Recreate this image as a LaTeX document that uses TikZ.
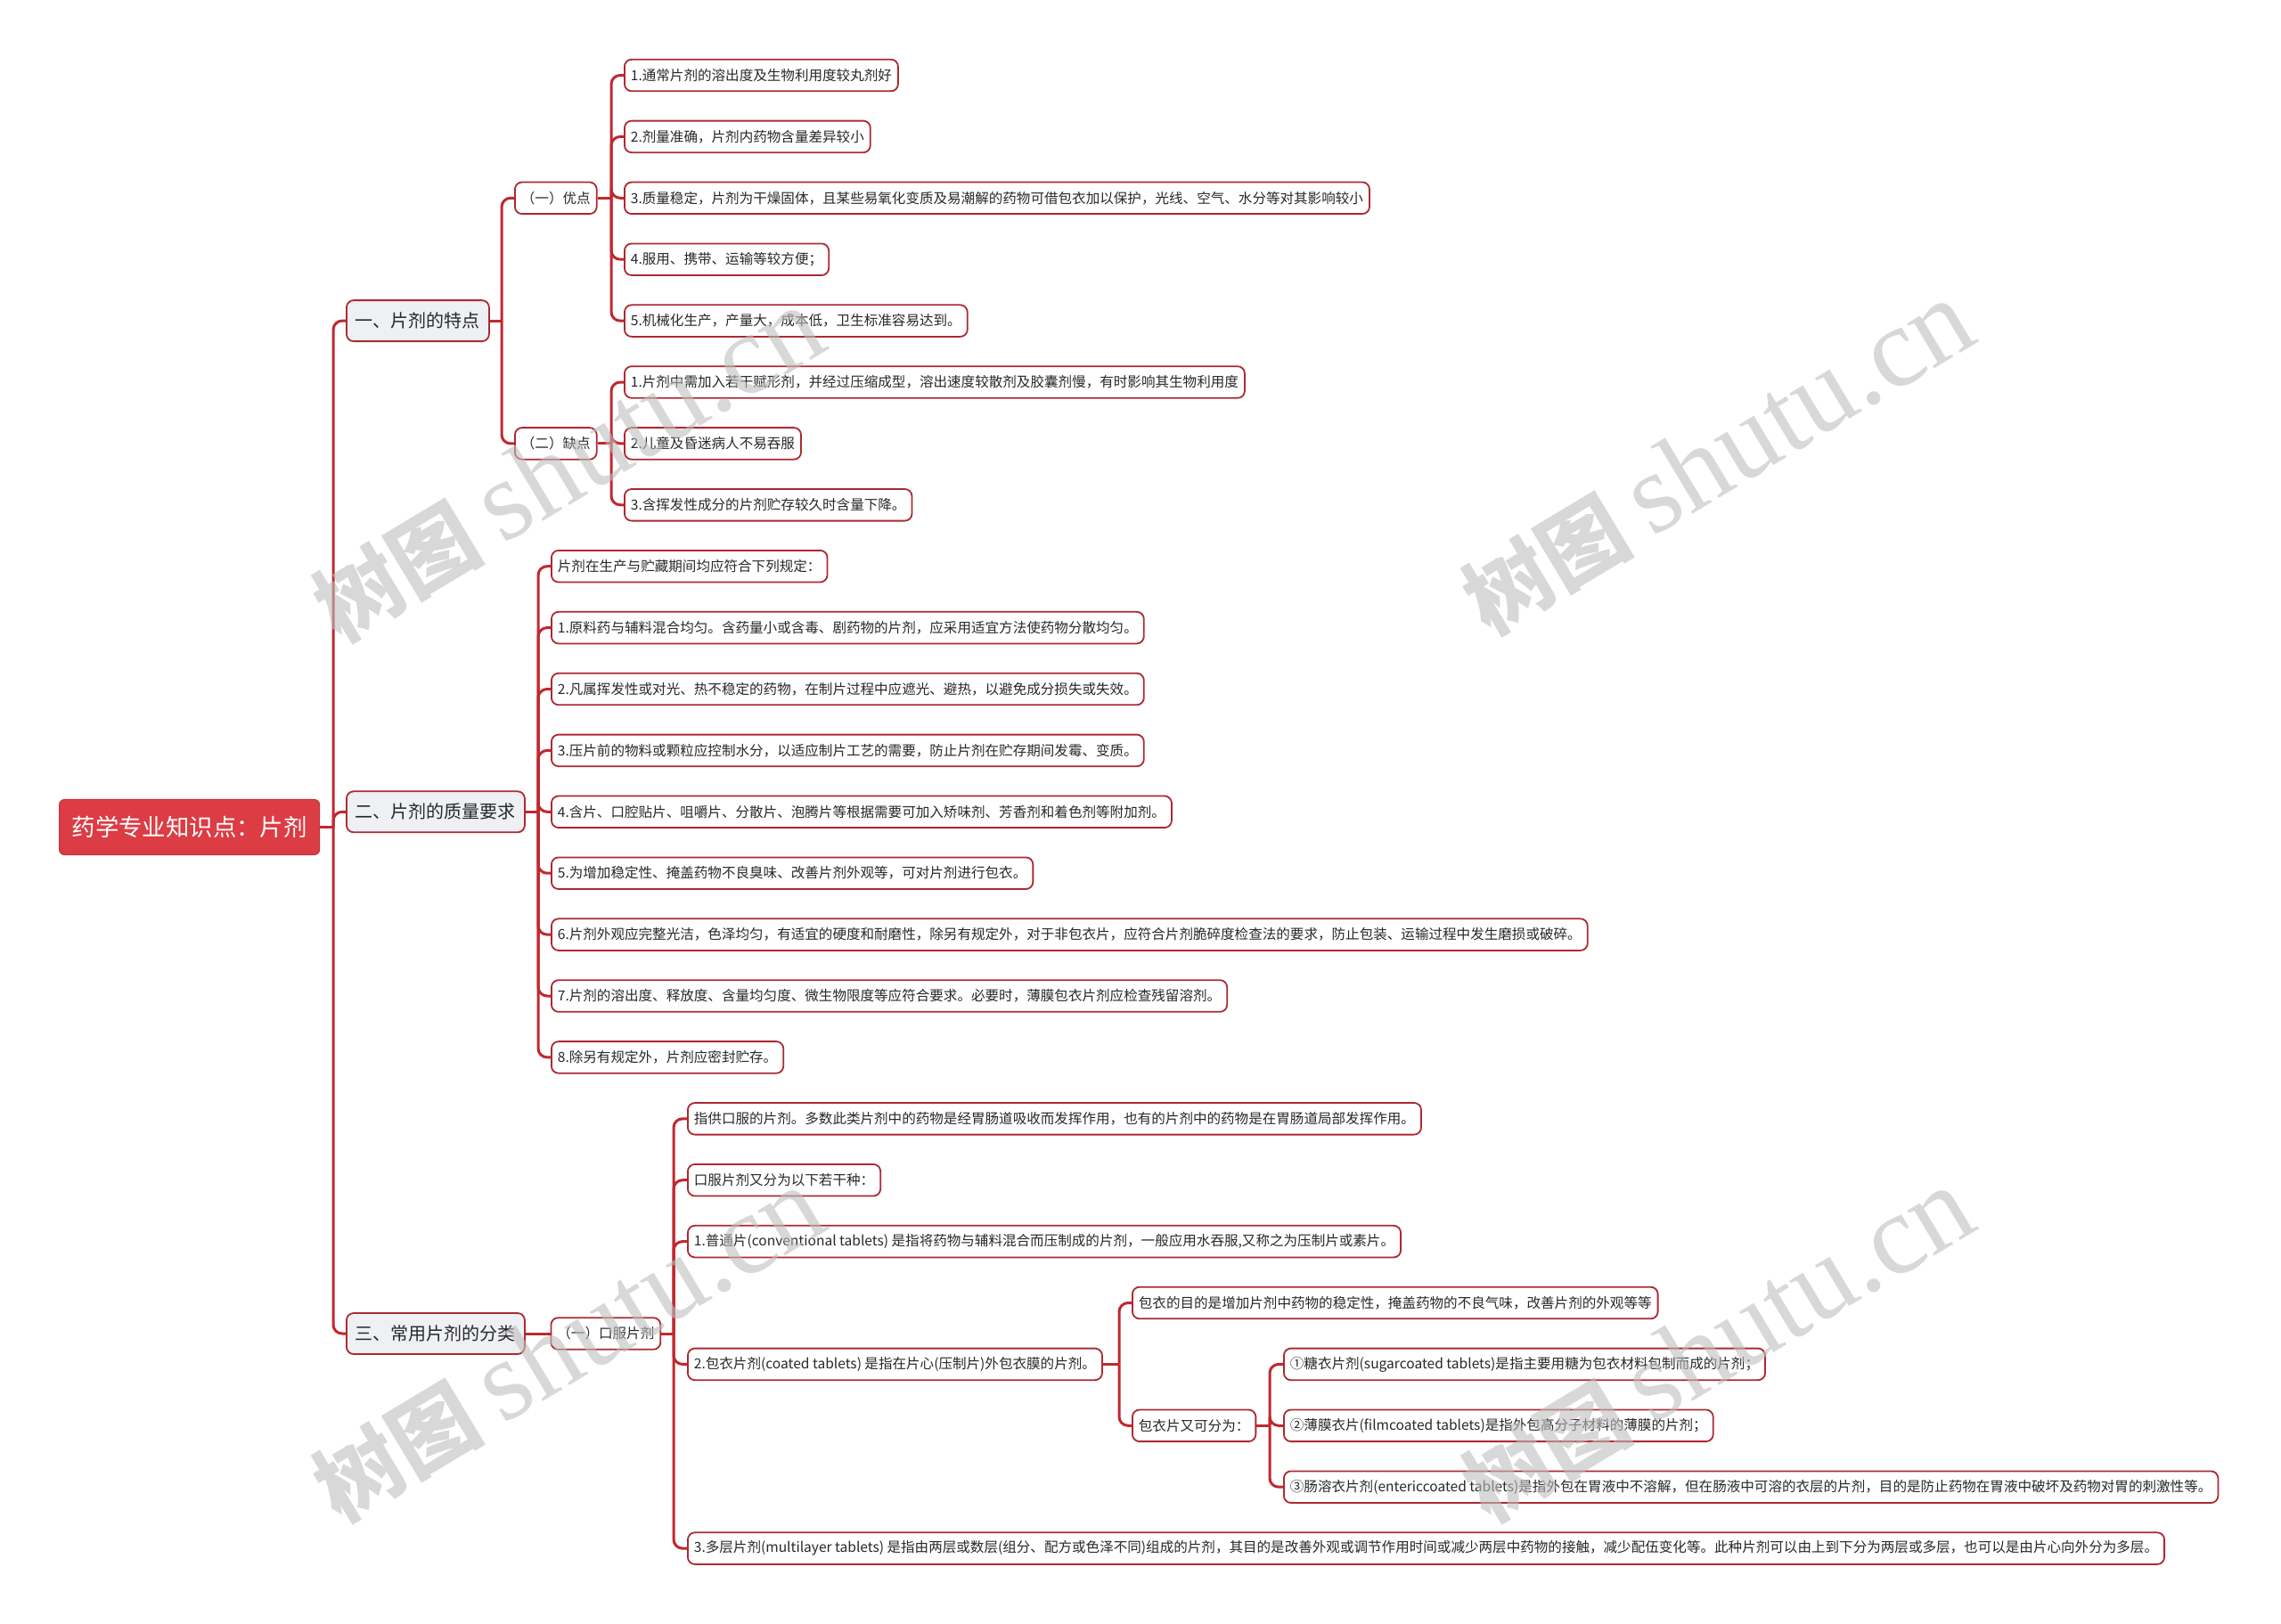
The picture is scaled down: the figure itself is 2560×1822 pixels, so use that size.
\documentclass[tikz,border=0pt]{standalone}
\usepackage{fontspec}
\setmainfont{Noto Sans CJK SC}
\newfontfamily\wmserif{Liberation Serif}
\usetikzlibrary{calc}
\definecolor{lineRed}{RGB}{192,40,48}
\definecolor{boxRed}{RGB}{172,42,50}
\definecolor{rootRed}{RGB}{220,60,68}
\definecolor{lvlGray}{RGB}{238,240,244}
\definecolor{txtDark}{RGB}{40,40,40}
\definecolor{wmGray}{RGB}{190,190,190}
\begin{document}
\begin{tikzpicture}[x=0.5pt,y=-0.5pt,
 leaf/.style={draw=boxRed, line width=0.9pt, fill=white, rounded corners=4pt,
   text=txtDark, font=\fontsize{7.78}{9}\selectfont, inner xsep=3.5pt, inner ysep=0pt,
   minimum height=17.8pt, anchor=west},
 lvl/.style={draw=boxRed, fill=lvlGray, line width=0.9pt, rounded corners=4pt,
   text=txtDark, font=\fontsize{10}{12}\selectfont, inner xsep=5pt, inner ysep=0pt,
   minimum height=23pt, anchor=west},
 rootbox/.style={fill=rootRed, draw=rootRed!90!black, line width=0.6pt, rounded corners=3pt, text=white,
   font=\fontsize{13.2}{15}\selectfont, inner xsep=7pt, inner ysep=0pt,
   minimum height=31pt, anchor=west},
 conn/.style={draw=lineRed, line width=1.5pt, rounded corners=5pt},
 wm/.style={text=wmGray, opacity=0.6, rotate=31, inner sep=0pt}]
\useasboundingbox (0,0) rectangle (2560,1822);

\coordinate (s0) at (374,928.5);
\coordinate (s1) at (563,360.1);
\coordinate (s2) at (686,222.3);
\coordinate (s3) at (686,497.9);
\coordinate (s4) at (604,911.3);
\coordinate (s5) at (756,1497);
\coordinate (s6) at (1256,1531.4);
\coordinate (s7) at (1425,1600.3);

% root and level 1
\node[rootbox] (root) at (66,928.5) {药学专业知识点：片剂};
\node[lvl] (L1a) at (388,360.1) {一、片剂的特点};
\node[lvl] (L1b) at (388,911.3) {二、片剂的质量要求};
\node[lvl] (L1c) at (388,1497) {三、常用片剂的分类};

% level 2
\node[leaf] (A1) at (577,222.3) {（一）优点};
\node[leaf] (A2) at (577,497.9) {（二）缺点};
\node[leaf] (K) at (617.5,1497) {（一）口服片剂};

% leaves of A1
\node[leaf] (a1) at (700,84.5) {1.通常片剂的溶出度及生物利用度较丸剂好};
\node[leaf] (a2) at (700,153.4) {2.剂量准确，片剂内药物含量差异较小};
\node[leaf] (a3) at (700,222.3) {3.质量稳定，片剂为干燥固体，且某些易氧化变质及易潮解的药物可借包衣加以保护，光线、空气、水分等对其影响较小};
\node[leaf] (a4) at (700,291.2) {4.服用、携带、运输等较方便；};
\node[leaf] (a5) at (700,360.1) {5.机械化生产，产量大，成本低，卫生标准容易达到。};
% leaves of A2
\node[leaf] (b1) at (700,429.0) {1.片剂中需加入若干赋形剂，并经过压缩成型，溶出速度较散剂及胶囊剂慢，有时影响其生物利用度};
\node[leaf] (b2) at (700,497.9) {2.儿童及昏迷病人不易吞服};
\node[leaf] (b3) at (700,566.8) {3.含挥发性成分的片剂贮存较久时含量下降。};
% leaves of L1b
\node[leaf] (c0) at (618,635.7) {片剂在生产与贮藏期间均应符合下列规定：};
\node[leaf] (c1) at (618,704.6) {1.原料药与辅料混合均匀。含药量小或含毒、剧药物的片剂，应采用适宜方法使药物分散均匀。};
\node[leaf] (c2) at (618,773.5) {2.凡属挥发性或对光、热不稳定的药物，在制片过程中应遮光、避热，以避免成分损失或失效。};
\node[leaf] (c3) at (618,842.4) {3.压片前的物料或颗粒应控制水分，以适应制片工艺的需要，防止片剂在贮存期间发霉、变质。};
\node[leaf] (c4) at (618,911.3) {4.含片、口腔贴片、咀嚼片、分散片、泡腾片等根据需要可加入矫味剂、芳香剂和着色剂等附加剂。};
\node[leaf] (c5) at (618,980.2) {5.为增加稳定性、掩盖药物不良臭味、改善片剂外观等，可对片剂进行包衣。};
\node[leaf] (c6) at (618,1049.1) {6.片剂外观应完整光洁，色泽均匀，有适宜的硬度和耐磨性，除另有规定外，对于非包衣片，应符合片剂脆碎度检查法的要求，防止包装、运输过程中发生磨损或破碎。};
\node[leaf] (c7) at (618,1118.0) {7.片剂的溶出度、释放度、含量均匀度、微生物限度等应符合要求。必要时，薄膜包衣片剂应检查残留溶剂。};
\node[leaf] (c8) at (618,1186.9) {8.除另有规定外，片剂应密封贮存。};
% leaves of K
\node[leaf] (k1) at (771,1255.8) {指供口服的片剂。多数此类片剂中的药物是经胃肠道吸收而发挥作用，也有的片剂中的药物是在胃肠道局部发挥作用。};
\node[leaf] (k2) at (771,1324.7) {口服片剂又分为以下若干种：};
\node[leaf] (k3) at (771,1393.6) {1.普通片(conventional tablets) 是指将药物与辅料混合而压制成的片剂，一般应用水吞服,又称之为压制片或素片。};
\node[leaf] (k4) at (771,1531.4) {2.包衣片剂(coated tablets) 是指在片心(压制片)外包衣膜的片剂。};
\node[leaf] (k5) at (771,1738.1) {3.多层片剂(multilayer tablets) 是指由两层或数层(组分、配方或色泽不同)组成的片剂，其目的是改善外观或调节作用时间或减少两层中药物的接触，减少配伍变化等。此种片剂可以由上到下分为两层或多层，也可以是由片心向外分为多层。};
% children of k4
\node[leaf] (m1) at (1270,1462.5) {包衣的目的是增加片剂中药物的稳定性，掩盖药物的不良气味，改善片剂的外观等等};
\node[leaf] (m2) at (1270,1600.3) {包衣片又可分为：};
% children of m2
\node[leaf] (n1) at (1440,1531.4) {①糖衣片剂(sugarcoated tablets)是指主要用糖为包衣材料包制而成的片剂；};
\node[leaf] (n2) at (1440,1600.3) {②薄膜衣片(filmcoated tablets)是指外包高分子材料的薄膜的片剂；};
\node[leaf] (n3) at (1440,1669.2) {③肠溶衣片剂(entericcoated tablets)是指外包在胃液中不溶解，但在肠液中可溶的衣层的片剂，目的是防止药物在胃液中破坏及药物对胃的刺激性等。};

% connectors
\draw[conn] (root.east) -- (s0);
\foreach \c in {L1a,L1b,L1c} \draw[conn] (s0) |- (\c.west);
\draw[conn] (L1a.east) -- (s1);
\foreach \c in {A1,A2} \draw[conn] (s1) |- (\c.west);
\draw[conn] (A1.east) -- (s2);
\foreach \c in {a1,a2,a3,a4,a5} \draw[conn] (s2) |- (\c.west);
\draw[conn] (A2.east) -- (s3);
\foreach \c in {b1,b2,b3} \draw[conn] (s3) |- (\c.west);
\draw[conn] (L1b.east) -- (s4);
\foreach \c in {c0,c1,c2,c3,c4,c5,c6,c7,c8} \draw[conn] (s4) |- (\c.west);
\draw[conn] (L1c.east) -- (K.west);
\draw[conn] (K.east) -- (s5);
\foreach \c in {k1,k2,k3,k4,k5} \draw[conn] (s5) |- (\c.west);
\draw[conn] (k4.east) -- (s6);
\foreach \c in {m1,m2} \draw[conn] (s6) |- (\c.west);
\draw[conn] (m2.east) -- (s7);
\foreach \c in {n1,n2,n3} \draw[conn] (s7) |- (\c.west);

% watermarks
\node[wm] (w1) at (637,522) {\bfseries\fontsize{48}{48}\selectfont 树图 {\wmserif\mdseries\fontsize{64}{64}\selectfont shutu.cn}};
\node[wm] (w2) at (1927,514) {\bfseries\fontsize{48}{48}\selectfont 树图 {\wmserif\mdseries\fontsize{64}{64}\selectfont shutu.cn}};
\node[wm] (w3) at (637,1510) {\bfseries\fontsize{48}{48}\selectfont 树图 {\wmserif\mdseries\fontsize{64}{64}\selectfont shutu.cn}};
\node[wm] (w4) at (1927,1510) {\bfseries\fontsize{48}{48}\selectfont 树图 {\wmserif\mdseries\fontsize{64}{64}\selectfont shutu.cn}};
\end{tikzpicture}
\end{document}
